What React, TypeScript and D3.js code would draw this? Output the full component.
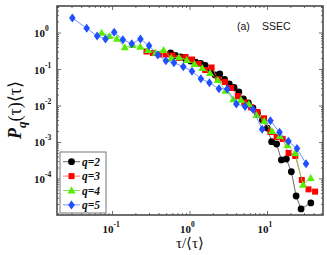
import * as d3 from "d3";

// (tau/<tau>, P_q(tau)<tau>)
const q2Tau = [0.561, 0.648, 0.753, 0.875, 1.015, 1.18, 1.37, 1.57, 1.85, 2.11, 2.42, 2.79, 3.21, 3.7, 4.26, 4.88, 5.66, 6.48, 7.41, 8.61, 9.91, 11.3, 13.1, 15.1, 17.5, 20.3, 23.4, 27.1, 36.2];
const q2Val = [0.283, 0.242, 0.22, 0.194, 0.171, 0.16, 0.148, 0.129, 0.0927, 0.0707, 0.0753, 0.0539, 0.0401, 0.0321, 0.0242, 0.0156, 0.0121, 0.00882, 0.00643, 0.00413, 0.00249, 0.00105, 0.00091, 0.000332, 0.000353, 0.000158, 3.42e-5, 1.51e-5, 2.2e-5];

const q3Tau = [0.274, 0.331, 0.402, 0.488, 0.593, 0.72, 0.875, 1.06, 1.29, 1.57, 1.9, 2.31, 2.81, 3.41, 4.14, 5.03, 6.1, 7.41, 9.01, 10.9, 13.1, 15.7, 18.7, 22.8, 27.7, 33.8, 41.1];
const q3Val = [0.311, 0.283, 0.258, 0.258, 0.242, 0.207, 0.22, 0.188, 0.1415, 0.0969, 0.1135, 0.0532, 0.0455, 0.0311, 0.0188, 0.0125, 0.0092, 0.00685, 0.0046, 0.00194, 0.00142, 0.00125, 0.000515, 0.000427, 9.4e-5, 5.2e-5, 4.5e-5];

const q4Tau = [0.0722, 0.0909, 0.114, 0.144, 0.181, 0.228, 0.287, 0.361, 0.455, 0.573, 0.721, 0.908, 1.14, 1.44, 1.81, 2.28, 2.87, 3.61, 4.55, 5.73, 7.21, 9.08, 11.4, 14.4, 18.1, 22.8, 28.7, 36.1];
const q4Val = [1.02, 0.83, 0.698, 0.406, 0.469, 0.421, 0.342, 0.289, 0.342, 0.207, 0.216, 0.182, 0.1415, 0.11, 0.0802, 0.0515, 0.0262, 0.0153, 0.0146, 0.0113, 0.00566, 0.00388, 0.00207, 0.00151, 0.000855, 0.000515, 6.9e-5, 0.000106];

const q5Tau = [0.0303, 0.0464, 0.0633, 0.0811, 0.105, 0.136, 0.177, 0.229, 0.296, 0.384, 0.488, 0.62, 0.819, 1.06, 1.38, 1.78, 2.36, 3.02, 3.96, 5.13, 6.52, 8.53, 10.9, 14.3, 18.6, 24.0, 31.4];
const q5Val = [2.58, 1.35, 0.83, 0.685, 1.05, 0.655, 0.509, 0.685, 0.449, 0.25, 0.174, 0.153, 0.119, 0.0893, 0.056, 0.0435, 0.0298, 0.029, 0.0114, 0.0097, 0.008, 0.0023, 0.00395, 0.0019, 0.00108, 0.00068, 0.000263];

const seriesNames = ["q=2", "q=3", "q=4", "q=5"];
const seriesColors = ["#000000", "#ff0000", "#55ee00", "#1f4fff"];
const lineColors = ["#444444", "#ff5555", "#66dd33", "#5577ff"];
const seriesShapes = ["circle", "square", "triangle", "diamond"];
const xTickExps = [-1, 0, 1];
const yTickExps = [0, -1, -2, -3, -4];

const W = 327;
const H = 255;
const plot = { left: 57, right: 323, top: 6, bottom: 215 };

function Marker({ shape, color, x, y }: { shape: string; color: string; x: number; y: number }) {
  if (shape === "circle") return <circle cx={x} cy={y} r={3.4} fill={color} />;
  if (shape === "square") return <rect x={x - 3} y={y - 3} width={6} height={6} fill={color} />;
  if (shape === "triangle")
    return <path d={`M${x},${y - 4}L${x + 4},${y + 3}L${x - 4},${y + 3}Z`} fill={color} />;
  return <path d={`M${x},${y - 4.5}L${x + 3.3},${y}L${x},${y + 4.5}L${x - 3.3},${y}Z`} fill={color} />;
}

export default function App() {
  const x = d3.scaleLog().domain([0.0192, 52]).range([plot.left, plot.right]);
  const y = d3.scaleLog().domain([1.03e-5, 5.5]).range([plot.bottom, plot.top]);

  const series = [
    d3.zip(q2Tau, q2Val),
    d3.zip(q3Tau, q3Val),
    d3.zip(q4Tau, q4Val),
    d3.zip(q5Tau, q5Val),
  ];

  const line = d3
    .line<number[]>()
    .x((d) => x(d[0]))
    .y((d) => y(d[1]));

  const xMinor = x.ticks(30).filter((t) => t >= x.domain()[0] && t <= x.domain()[1]);
  const yMinor = y.ticks(60).filter((t) => t >= y.domain()[0] && t <= y.domain()[1]);
  const isMajor = (t: number) => Math.abs(Math.log10(t) - Math.round(Math.log10(t))) < 1e-6;

  const frame = "#4a4a4a";
  const serif = "'Liberation Serif', 'Times New Roman', serif";

  return (
    <svg width={W} height={H} style={{ position: "absolute", left: 0, top: 0, background: "#fff" }}>
      <rect width={W} height={H} fill="#fff" />

      {/* ticks, mirrored on all sides */}
      <g stroke={frame} strokeWidth={0.8}>
        {xMinor.map((t, i) => {
          const len = isMajor(t) ? 4 : 2;
          return (
            <g key={"xt" + i}>
              <line x1={x(t)} x2={x(t)} y1={plot.bottom} y2={plot.bottom - len} />
              <line x1={x(t)} x2={x(t)} y1={plot.top} y2={plot.top + len} />
            </g>
          );
        })}
        {yMinor.map((t, i) => {
          const len = isMajor(t) ? 4 : 2;
          return (
            <g key={"yt" + i}>
              <line y1={y(t)} y2={y(t)} x1={plot.left} x2={plot.left + len} />
              <line y1={y(t)} y2={y(t)} x1={plot.right} x2={plot.right - len} />
            </g>
          );
        })}
      </g>
      <rect
        x={plot.left}
        y={plot.top}
        width={plot.right - plot.left}
        height={plot.bottom - plot.top}
        fill="none"
        stroke={frame}
        strokeWidth={1.6}
      />

      {/* tick labels */}
      <g fontFamily={serif} fontWeight="bold" fill="#111">
        {xTickExps.map((e) => (
          <g key={"xl" + e}>
            <text x={x(Math.pow(10, e)) + 1} y={233} fontSize={11} textAnchor="end">
              10
            </text>
            <text x={x(Math.pow(10, e)) + 1} y={227} fontSize={7.5}>
              {e}
            </text>
          </g>
        ))}
        {yTickExps.map((e) => (
          <g key={"yl" + e}>
            <text x={45} y={y(Math.pow(10, e)) + 4} fontSize={11} textAnchor="end">
              10
            </text>
            <text x={45} y={y(Math.pow(10, e)) - 2} fontSize={7.5}>
              {e}
            </text>
          </g>
        ))}
      </g>

      {/* series */}
      {series.map((pts, i) => (
        <g key={"s" + i}>
          <path d={line(pts) ?? ""} fill="none" stroke={lineColors[i]} strokeWidth={0.8} />
          {pts.map((p, j) => (
            <Marker key={j} shape={seriesShapes[i]} color={seriesColors[i]} x={x(p[0])} y={y(p[1])} />
          ))}
        </g>
      ))}

      {/* legend */}
      <rect x={60} y={152} width={46} height={61} fill="#fff" stroke="#777" strokeWidth={1} />
      {seriesNames.map((name, i) => {
        const ly = 161.7 + i * 14.4;
        return (
          <g key={"lg" + i}>
            <line x1={63} x2={80} y1={ly} y2={ly} stroke={lineColors[i]} strokeWidth={0.8} />
            <Marker shape={seriesShapes[i]} color={seriesColors[i]} x={71.5} y={ly} />
            <text
              x={82}
              y={ly + 4}
              fontFamily={serif}
              fontWeight="bold"
              fontStyle="italic"
              fontSize={11.5}
              fill="#111"
            >
              {name}
            </text>
          </g>
        );
      })}

      {/* annotation */}
      <text x={237} y={30} fontFamily="'Liberation Sans', Arial, sans-serif" fontSize={10.5} fill="#111">
        (a)
      </text>
      <text x={262} y={30} fontFamily="'Liberation Sans', Arial, sans-serif" fontSize={10.5} fill="#111">
        SSEC
      </text>

      {/* axis titles */}
      <text x={190} y={248} fontFamily={serif} fontSize={15} textAnchor="middle" fill="#111">
        τ/⟨τ⟩
      </text>
      <text
        transform="translate(21,110) rotate(-90)"
        fontFamily={serif}
        fontSize={18}
        textAnchor="middle"
        fill="#111"
      >
        <tspan fontWeight="bold" fontStyle="italic">
          P
        </tspan>
        <tspan fontWeight="bold" fontStyle="italic" fontSize={13} dy={5}>
          q
        </tspan>
        <tspan dy={-5}>(τ)⟨τ⟩</tspan>
      </text>
    </svg>
  );
}
